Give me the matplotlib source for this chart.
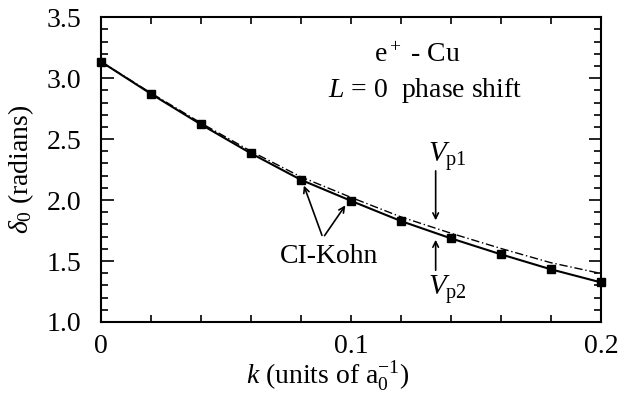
import matplotlib
matplotlib.use("Agg")
import matplotlib.pyplot as plt
from matplotlib.ticker import MultipleLocator

# e+ - Cu, L = 0 phase shift
k = [0.0, 0.02, 0.04, 0.06, 0.08, 0.10, 0.12, 0.14, 0.16, 0.18, 0.20]
delta_kohn = [3.135, 2.871, 2.620, 2.383, 2.166, 1.994, 1.828, 1.686, 1.555, 1.432, 1.325]
delta_vp2 = [3.135, 2.871, 2.620, 2.383, 2.166, 1.994, 1.828, 1.686, 1.555, 1.432, 1.325]
delta_vp1 = [3.135, 2.878, 2.632, 2.400, 2.190, 2.022, 1.862, 1.728, 1.603, 1.486, 1.398]

plt.rcParams['font.family'] = ['Liberation Serif', 'DejaVu Serif']
plt.rcParams['mathtext.fontset'] = 'custom'
plt.rcParams['mathtext.rm'] = 'Liberation Serif'
plt.rcParams['mathtext.it'] = 'Liberation Serif:italic'

FS = 20

fig = plt.figure(figsize=(6.21, 3.99), dpi=100)
ax = fig.add_axes([0.1626, 0.193, 0.805, 0.764])

ax.plot(k, delta_vp1, color='black', linewidth=1.0, linestyle=(0, (6, 2, 1, 2)))
ax.plot(k, delta_vp2, color='black', linewidth=1.5)
ax.plot(k, delta_kohn, linestyle='none', marker='s', markersize=5.5, color='black',
        clip_on=False, zorder=5)

ax.set_xlim(0, 0.2)
ax.set_ylim(1.0, 3.5)
ax.set_xticks([0, 0.1, 0.2])
ax.set_xticklabels(['0', '0.1', '0.2'])
ax.xaxis.set_minor_locator(MultipleLocator(0.02))
ax.yaxis.set_major_locator(MultipleLocator(0.5))
ax.yaxis.set_minor_locator(MultipleLocator(0.1))
ax.tick_params(which='both', direction='in', top=True, right=True, width=1.2, labelsize=FS)
ax.tick_params(axis='y', which='major', length=9, pad=14)
ax.tick_params(axis='y', which='minor', length=5)
ax.tick_params(axis='x', which='both', length=5, pad=9)
for s in ax.spines.values():
    s.set_linewidth(1.5)

ax.set_xlabel(r'$k$ (units of a$_0^{\mathrm{-1}}$)', fontsize=FS)
ax.xaxis.set_label_coords(0.454, -0.205)
ax.xaxis.label.set_va('baseline')
ax.set_ylabel(r'$\delta_0$ (radians)', fontsize=FS)
ax.yaxis.set_label_coords(-0.16, 0.5)
ax.yaxis.label.set_va('center')

ax.text(0.1264, 3.131, r'e$^+$ - Cu', fontsize=FS, ha='center', va='baseline')
ax.text(0.1296, 2.844, r'$L$ = 0  phase shift', fontsize=FS, ha='center', va='baseline')

# CI-Kohn arrows
ax.text(0.0912, 1.484, 'CI-Kohn', fontsize=FS, ha='center', va='baseline')
ax.annotate('', xy=(0.0808, 2.14), xytext=(0.0888, 1.689),
            arrowprops=dict(arrowstyle='->', color='black', lw=1.2))
ax.annotate('', xy=(0.0984, 1.975), xytext=(0.0888, 1.689),
            arrowprops=dict(arrowstyle='->', color='black', lw=1.2))

# V_p1 / V_p2 arrows
ax.annotate('', xy=(0.1339, 1.811), xytext=(0.1339, 2.262),
            arrowprops=dict(arrowstyle='->', color='black', lw=1.2))
ax.annotate('', xy=(0.1339, 1.697), xytext=(0.1339, 1.402),
            arrowprops=dict(arrowstyle='->', color='black', lw=1.2))
ax.text(0.1308, 2.311, r'$V_{\rm p1}$', fontsize=FS + 1, ha='left', va='baseline')
ax.text(0.1308, 1.221, r'$V_{\rm p2}$', fontsize=FS + 1, ha='left', va='baseline')

fig.savefig('out.png', dpi=100)
